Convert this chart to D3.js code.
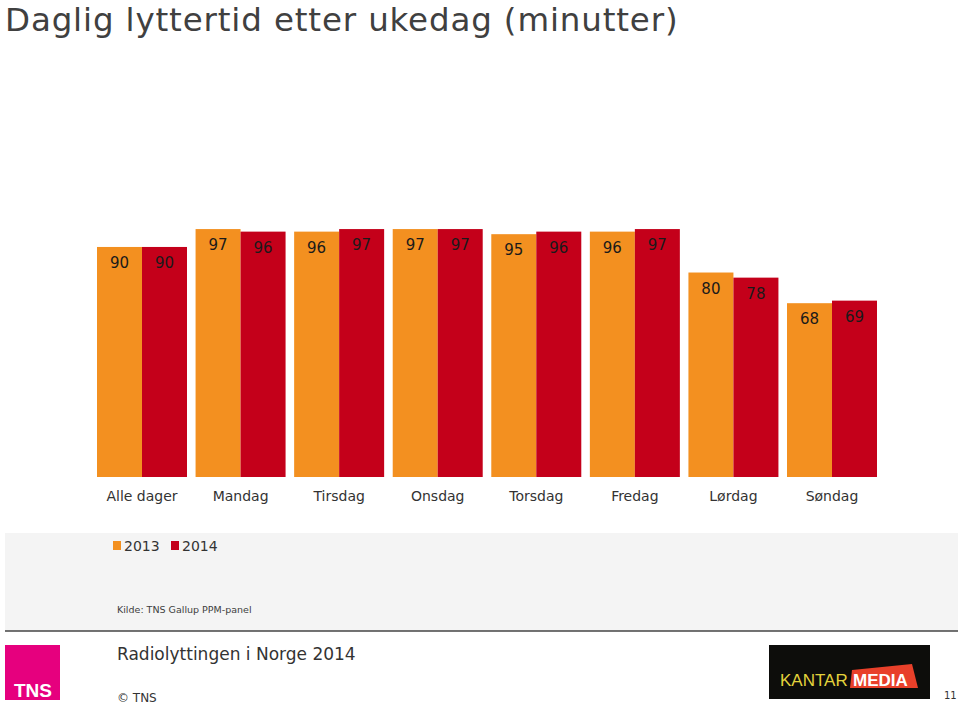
<!DOCTYPE html>
<html><head><meta charset="utf-8">
<script src="https://cdn.jsdelivr.net/npm/d3@7"></script>
<style>body{margin:0;background:#fff}svg{display:block}</style>
</head><body>
<script>
const categories = ["Alle dager","Mandag","Tirsdag","Onsdag","Torsdag","Fredag","Lørdag","Søndag"];
const series = ["2013","2014"];
const values2013 = [90,97,96,97,95,96,80,68];
const values2014 = [90,96,97,97,96,97,78,69];
const colors = ["#F39020","#C4001A"];

const W=960,H=705;
const svg=d3.select("body").append("svg").attr("width",W).attr("height",H);
const font="'DejaVu Sans', Verdana, sans-serif";

svg.append("text").attr("x",5).attr("y",31).attr("font-family",font).attr("letter-spacing",0.85)
  .attr("font-size",32.5).attr("fill","#404040").text("Daglig lyttertid etter ukedag (minutter)");

const x0=d3.scaleBand().domain(categories).range([97,877]).paddingInner(0.087).paddingOuter(0);
const x1=d3.scaleBand().domain(series).range([0,x0.bandwidth()]);
const y=d3.scaleLinear().domain([0,100]).range([477,221.4]);

const data=categories.map((c,i)=>({c,vals:[values2013[i],values2014[i]]}));
const g=svg.append("g");
const grp=g.selectAll("g.grp").data(data).join("g").attr("transform",d=>`translate(${x0(d.c)},0)`);
grp.selectAll("rect").data(d=>d.vals.map((v,j)=>({v,s:series[j],j}))).join("rect")
  .attr("x",d=>x1(d.s)).attr("width",x1.bandwidth()).attr("y",d=>y(d.v)).attr("height",d=>y(0)-y(d.v))
  .attr("fill",d=>colors[d.j]);
grp.selectAll("text").data(d=>d.vals.map((v,j)=>({v,s:series[j],j}))).join("text")
  .attr("x",d=>x1(d.s)+x1.bandwidth()/2).attr("y",d=>y(d.v)+21).attr("text-anchor","middle")
  .attr("font-family",font).attr("font-size",15).attr("fill","#1a1a1a").text(d=>d.v);

const xAxis=svg.append("g").attr("transform","translate(0,477)").call(d3.axisBottom(x0).tickSize(0).tickPadding(14));
xAxis.select(".domain").remove();
xAxis.selectAll("text").attr("font-family",font).attr("font-size",14).attr("fill","#333");

// panel
svg.append("rect").attr("x",5).attr("y",533).attr("width",953).attr("height",98).attr("fill","#f4f4f4");
svg.append("line").attr("x1",5).attr("x2",958).attr("y1",631).attr("y2",631).attr("stroke","#444").attr("stroke-width",1.5);

const leg=svg.append("g");
const lx=[113,171];
series.forEach((s,i)=>{
  leg.append("rect").attr("x",lx[i]).attr("y",541).attr("width",8).attr("height",9).attr("fill",colors[i]);
  leg.append("text").attr("x",lx[i]+11).attr("y",551).attr("font-family",font).attr("font-size",14).attr("fill","#333").text(s);
});
svg.append("text").attr("x",117).attr("y",613).attr("font-family",font).attr("font-size",9.5).attr("fill","#404040").text("Kilde: TNS Gallup PPM-panel");

// footer
svg.append("rect").attr("x",5).attr("y",645).attr("width",55).attr("height",55).attr("fill","#E6007E");
svg.append("text").attr("x",14).attr("y",697).attr("font-family","'Liberation Sans', Arial, sans-serif").attr("font-weight","bold")
  .attr("font-size",19).attr("fill","#fff").text("TNS");
svg.append("text").attr("x",117).attr("y",660).attr("font-family",font).attr("font-size",17).attr("fill","#333").text("Radiolyttingen i Norge 2014");
svg.append("text").attr("x",117).attr("y",702).attr("font-family",font).attr("font-size",12).attr("fill","#333").text("© TNS");

svg.append("rect").attr("x",769).attr("y",645).attr("width",161).attr("height",54).attr("fill","#0d0d0b");
svg.append("path").attr("d","M852,670 L912,664 L918,688 L850,688 Z").attr("fill","#e8402a");
svg.append("text").attr("x",780).attr("y",686).attr("font-family","'Liberation Sans', Arial, sans-serif").attr("font-size",17)
  .attr("fill","#e3d23c").text("KANTAR");
svg.append("text").attr("x",853).attr("y",686).attr("font-family","'Liberation Sans', Arial, sans-serif").attr("font-weight","bold").attr("font-size",17)
  .attr("fill","#fff").text("MEDIA");
svg.append("text").attr("x",944).attr("y",699).attr("font-family",font).attr("font-size",10).attr("fill","#333").text("11");
</script>
</body></html>
